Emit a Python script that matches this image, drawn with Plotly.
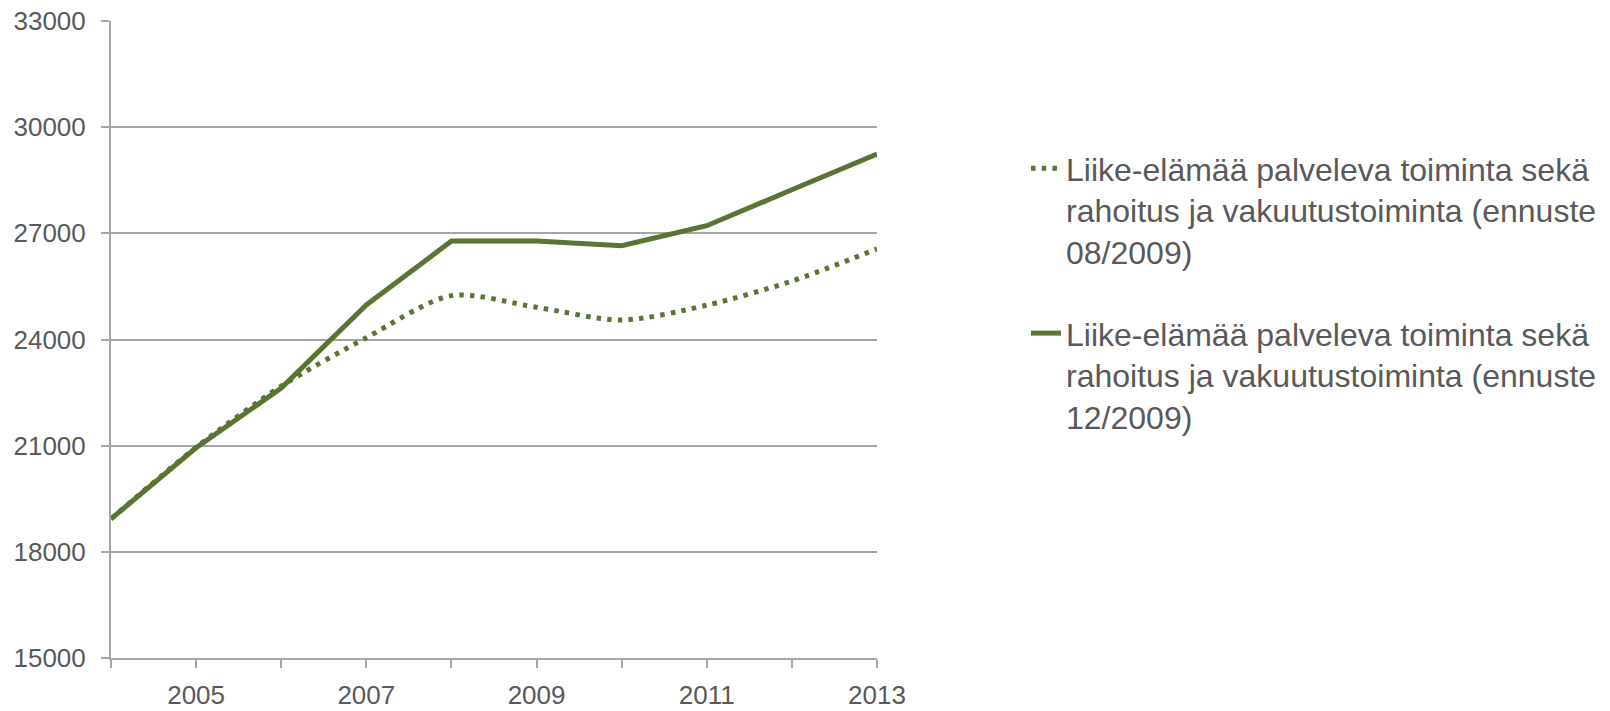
import plotly.graph_objects as go

years = [2004, 2005, 2006, 2007, 2008, 2009, 2010, 2011, 2012, 2013]
x_tick_labels = ["", "2005", "", "2007", "", "2009", "", "2011", "", "2013"]
forecast_0809 = [18930, 20950, 22680, 24050, 25240, 24910, 24550, 24970, 25650, 26560]
forecast_1209 = [18930, 20940, 22630, 24975, 26780, 26780, 26650, 27215, 28230, 29240]
y_ticks = [15000, 18000, 21000, 24000, 27000, 30000, 33000]
y_tick_labels = ["15000", "18000", "21000", "24000", "27000", "30000", "33000"]

name_0809 = "Liike-elämää palveleva toiminta sekä<br>rahoitus ja vakuutustoiminta (ennuste<br>08/2009)"
name_1209 = "Liike-elämää palveleva toiminta sekä<br>rahoitus ja vakuutustoiminta (ennuste<br>12/2009)"

green = "#5A7434"
gray = "#A6A6A6"
txt = "#595959"
font = "Liberation Sans, Arial, sans-serif"

fig = go.Figure()
fig.add_trace(go.Scatter(
    x=years, y=forecast_0809, mode="lines", name=name_0809, legendgroup="a",
    line=dict(color=green, width=5, dash="4.5px,6.2px", shape="spline", smoothing=0.8),
))
fig.add_trace(go.Scatter(
    x=years, y=forecast_1209, mode="lines", name=name_1209, legendgroup="b",
    line=dict(color=green, width=5),
))

fig.update_layout(
    width=1610, height=711,
    margin=dict(l=111, r=733, t=21, b=53, autoexpand=False),
    paper_bgcolor="white", plot_bgcolor="white",
    font=dict(family=font, color=txt, size=26),
    showlegend=True,
    legend=dict(
        x=(1026 - 111) / 766, xanchor="left",
        y=1 - (141 - 21) / 637, yanchor="top",
        font=dict(size=32, color=txt, family=font),
        valign="top", tracegroupgap=37,
        bgcolor="rgba(0,0,0,0)",
    ),
    xaxis=dict(
        range=[2004, 2013], tickmode="array", tickvals=years, ticktext=x_tick_labels,
        showgrid=False, showline=True, linecolor=gray, linewidth=2,
        ticks="outside", ticklen=8, tickcolor=gray, tickwidth=2, ticklabelstandoff=5,
        ticklabeloverflow="allow",
        tickfont=dict(size=26, color=txt), zeroline=False, automargin=False,
    ),
    yaxis=dict(
        range=[15000, 33000], tickmode="array", tickvals=y_ticks, ticktext=y_tick_labels,
        showgrid=True, gridcolor=gray, gridwidth=2,
        showline=True, linecolor=gray, linewidth=2,
        ticks="outside", ticklen=8, tickcolor=gray, tickwidth=2, ticklabelstandoff=10,
        ticklabeloverflow="allow",
        tickfont=dict(size=26, color=txt), zeroline=False, automargin=False,
    ),
)

fig.write_html("out.html", config={"displayModeBar": False},
               post_script="document.body.style.margin='0';")
